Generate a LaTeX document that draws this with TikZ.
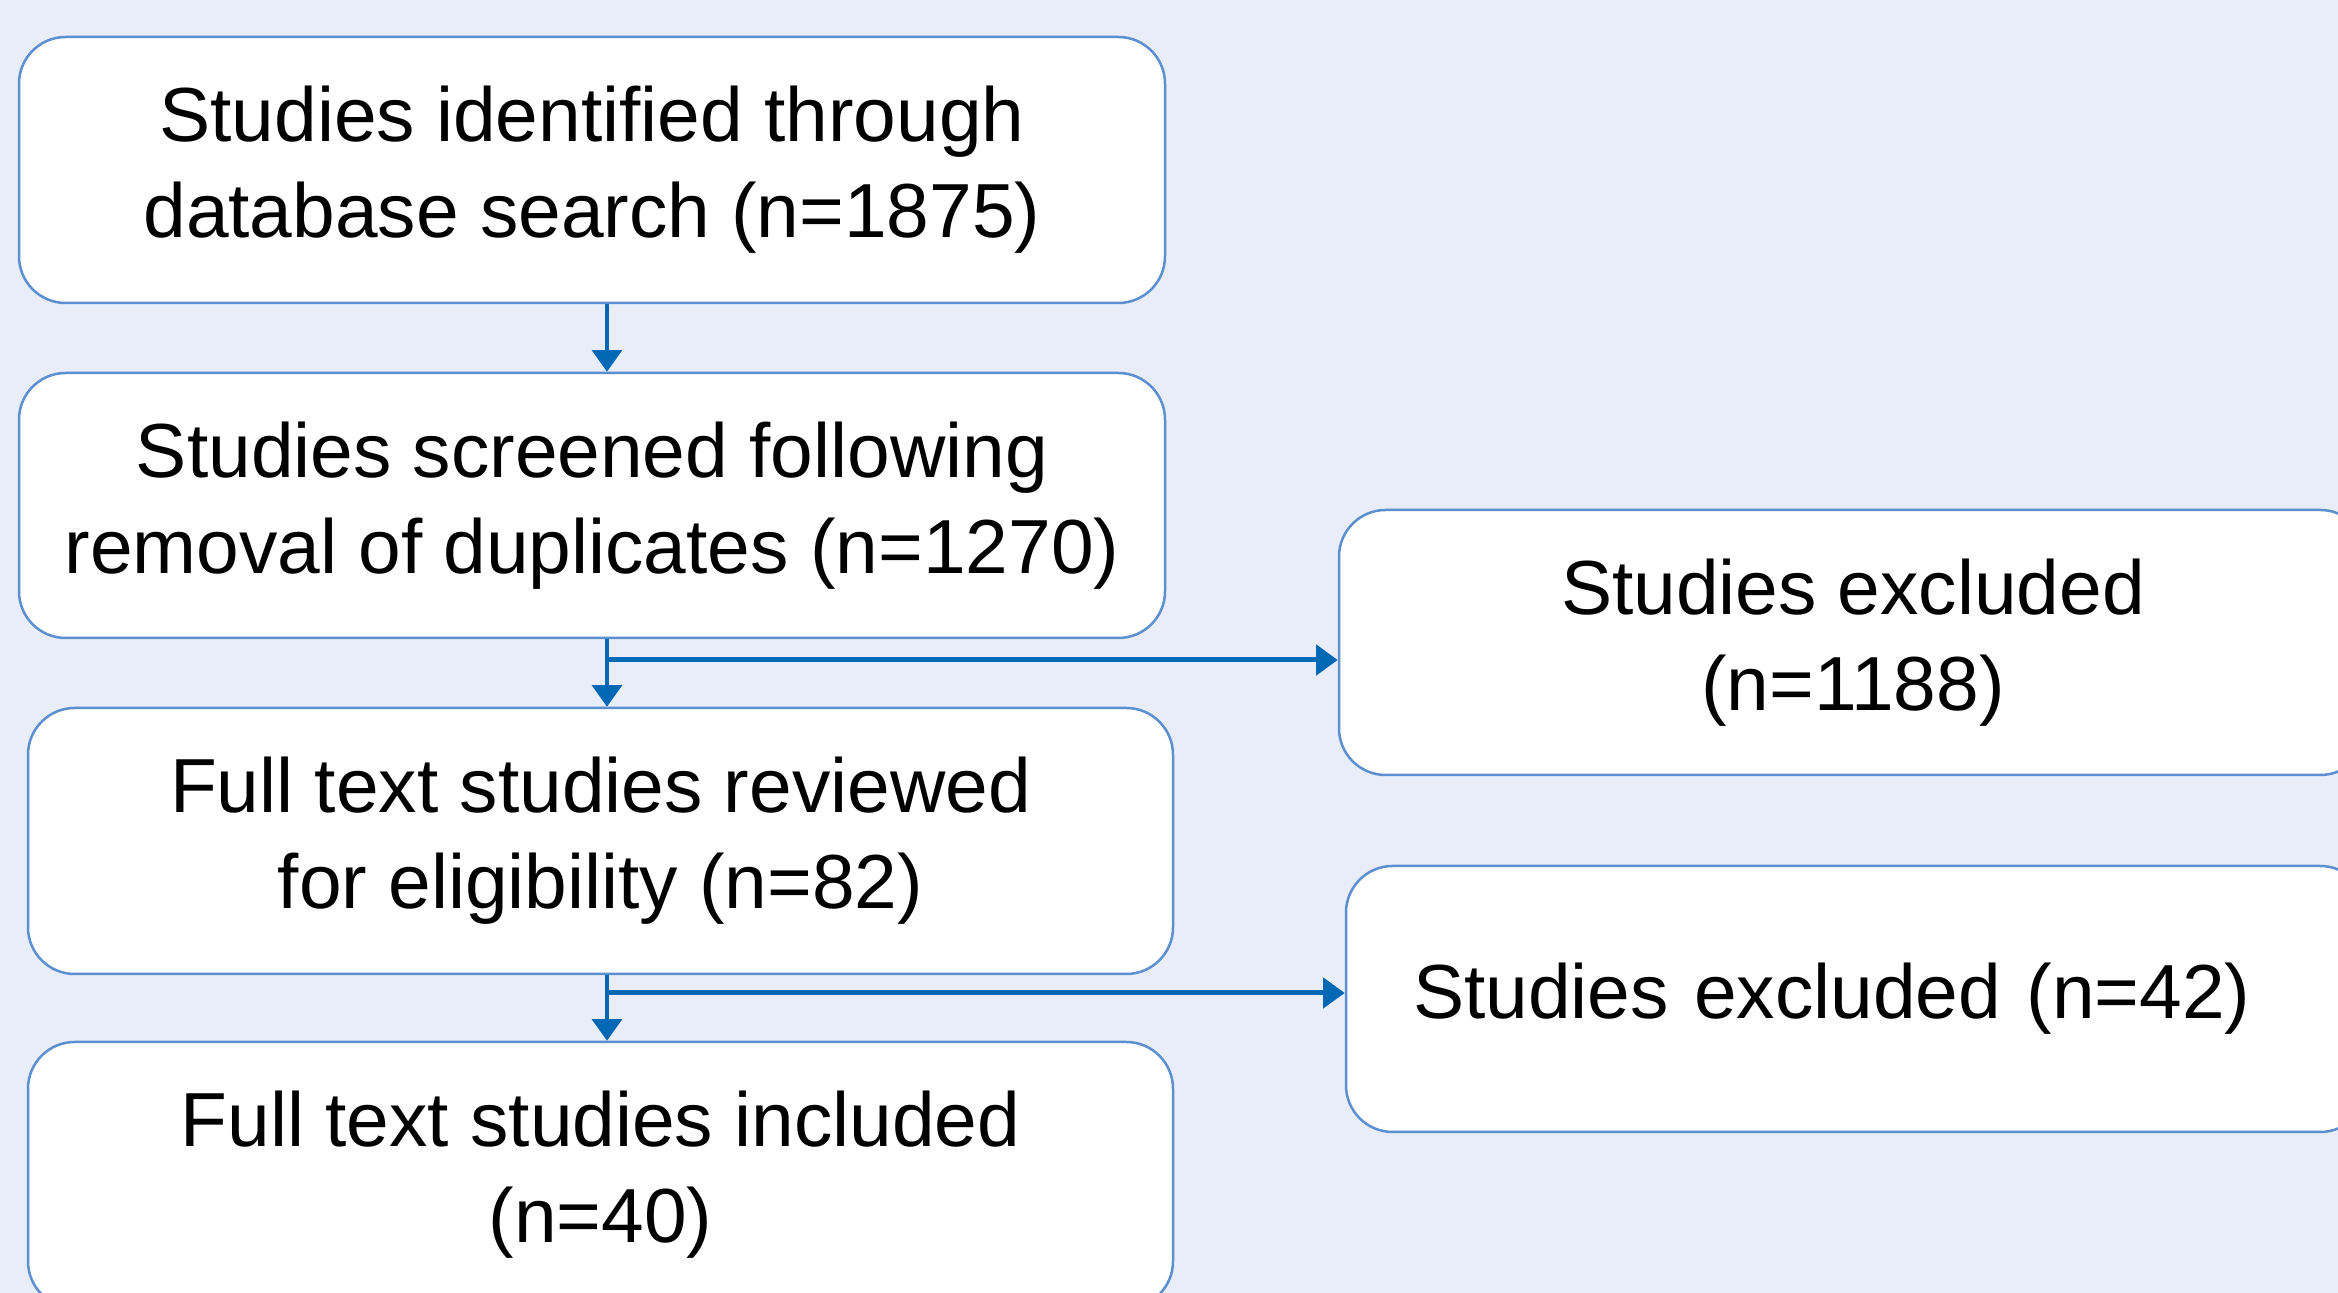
\documentclass[tikz,border=0pt]{standalone}
\usepackage{fontspec}
\setmainfont{Liberation Sans}
\usetikzlibrary{arrows.meta}
\definecolor{pagebg}{HTML}{E8EDF8}
\definecolor{boxline}{HTML}{5B8FD0}
\definecolor{flow}{HTML}{0068B5}
\begin{document}
\begin{tikzpicture}[x=0.3pt,y=-0.3pt,
  stage/.style={draw=boxline, line width=0.75pt, fill=white, rounded corners=14pt,
    align=center, inner sep=0pt, font=\fontsize{23}{28.8}\selectfont},
  flowarrow/.style={draw=flow, line width=1pt, -{Triangle[width=9pt,length=6.5pt]}},
  sidearrow/.style={flowarrow, line width=1.5pt}]
% page background and frame
\fill[pagebg] (0,0) rectangle (2338,1293);
\useasboundingbox (0,0) rectangle (2338,1293);
\clip (0,0) rectangle (2338,1293);

% main column
\node[stage, minimum width=343.8pt, minimum height=79.8pt] (B1) at (592,170)
  {Studies identified through\\database search (n=1875)};
\node[stage, minimum width=343.8pt, minimum height=79.5pt] (B2) at (592,505.5)
  {Studies screened following\\removal of duplicates (n=1270)};
\node[stage, minimum width=343.5pt, minimum height=79.8pt] (B3) at (600.5,841)
  {Full text studies reviewed\\for eligibility (n=82)};
\node[stage, minimum width=343.5pt, minimum height=79.8pt] (B4) at (600.5,1175)
  {Full text studies included\\(n=40)};

% exclusion boxes
\node[stage, minimum width=308.4pt, minimum height=79.5pt] (R1) at (1853,642.5)
  {Studies excluded\\(n=1188)};
\node[stage, minimum height=79.8pt, text width=266.1pt, align=left, inner xsep=20.1pt]
  (R2) at (1856.5,999) {Studies excluded (n=42)};

% connectors
\coordinate (v) at (607,0);
\draw[flowarrow] (B1.south -| v) -- (B2.north -| v);
\draw[flowarrow] (B2.south -| v) -- (B3.north -| v);
\draw[flowarrow] (B3.south -| v) -- (B4.north -| v);
\coordinate (j1) at (607,660);
\draw[sidearrow] (j1) -- (j1 -| R1.west);
\coordinate (j2) at (607,993);
\draw[sidearrow] (j2) -- (j2 -| R2.west);
\end{tikzpicture}
\end{document}
